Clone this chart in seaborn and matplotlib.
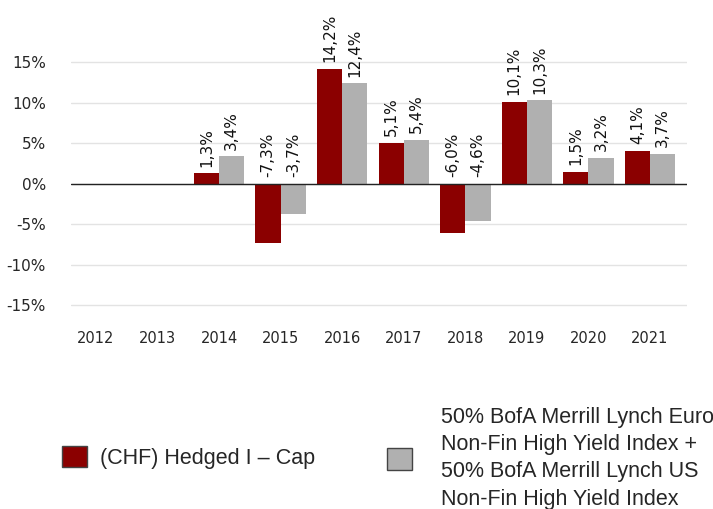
import matplotlib
matplotlib.use("Agg")
import matplotlib.pyplot as plt
import matplotlib.patches as mpatches
import numpy as np
import pandas as pd
import seaborn as sns

# data
years = ["2012", "2013", "2014", "2015", "2016", "2017", "2018", "2019", "2020", "2021"]
fund_returns = [np.nan, np.nan, 1.3, -7.3, 14.2, 5.1, -6.0, 10.1, 1.5, 4.1]
index_returns = [np.nan, np.nan, 3.4, -3.7, 12.4, 5.4, -4.6, 10.3, 3.2, 3.7]
fund_name = "(CHF) Hedged I – Cap"
index_name = ("50% BofA Merrill Lynch Euro\nNon-Fin High Yield Index +\n"
              "50% BofA Merrill Lynch US\nNon-Fin High Yield Index")
y_ticks = [-15, -10, -5, 0, 5, 10, 15]

colors = {fund_name: "#8b0000", index_name: "#b0b0b0"}

df = pd.DataFrame({
    "Year": years * 2,
    "Return": fund_returns + index_returns,
    "Series": [fund_name] * len(years) + [index_name] * len(years),
})

sns.set_theme(style="white")
plt.rcParams['font.family'] = ['DejaVu Sans']

fig = plt.figure(figsize=(7.13, 5.09), dpi=100)
ax = fig.add_axes([0.1001, 0.368, 0.8634, 0.589])

sns.barplot(data=df, x="Year", y="Return", hue="Series", order=years,
            hue_order=[fund_name, index_name], palette=colors,
            width=0.82, gap=0, ax=ax, legend=False, errorbar=None,
            saturation=1, linewidth=0)

ax.set_ylim(-17, 20)
ax.set_xlim(-0.4, len(years) - 0.4)
ax.set_yticks(y_ticks)
ax.set_yticklabels([f"{t}%" for t in y_ticks], fontsize=11)
ax.tick_params(axis="x", labelsize=10.5, pad=7, length=0)
ax.tick_params(axis="y", length=0, pad=18.3)
ax.set_xlabel("")
ax.set_ylabel("")
ax.grid(axis="y", color="#e3e3e3", linewidth=1)
ax.set_axisbelow(True)
ax.axhline(0, color="#222222", linewidth=1, zorder=3)
for s in ax.spines.values():
    s.set_visible(False)

# value labels
for cont in ax.containers:
    for p in cont.patches:
        h = p.get_height()
        if np.isnan(h):
            continue
        ax.text(p.get_x() + p.get_width() / 2, max(h, 0) + 0.85,
                f"{h:.1f}%".replace(".", ","), rotation=90,
                ha="center", va="bottom", fontsize=11, color="#111111")

leg_font = {"family": "Liberation Sans", "size": 15.5}
h1 = mpatches.Patch(facecolor=colors[fund_name], edgecolor="#444444", label=fund_name)
h2 = mpatches.Patch(facecolor=colors[index_name], edgecolor="#444444", label=index_name)
fig.legend(handles=[h1], loc="center left", bbox_to_anchor=(62 / 713, 0.102),
           frameon=False, handlelength=1.16, handleheight=1.16,
           handletextpad=0.6, borderpad=0, borderaxespad=0, prop=leg_font)
leg2 = fig.legend(handles=[h2], loc="center left", bbox_to_anchor=(387 / 713, 0.1),
                  frameon=False, handlelength=1.16, handleheight=1.16,
                  handletextpad=1.35, borderpad=0, borderaxespad=0, prop=leg_font)
for t in leg2.get_texts():
    t.set_linespacing(1.4)

fig.savefig("out.png", dpi=100)
